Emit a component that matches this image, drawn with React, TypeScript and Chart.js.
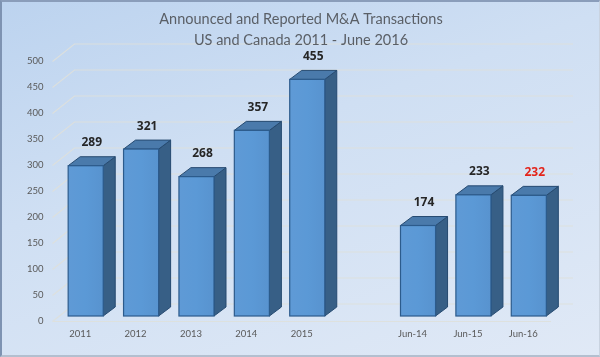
import React, { useEffect, useRef } from "react";
import { Chart, registerables } from "chart.js";

Chart.register(...registerables);

const categories = ["2011", "2012", "2013", "2014", "2015", "", "Jun-14", "Jun-15", "Jun-16"];
const transactions = [289, 321, 268, 357, 455, null, 174, 233, 232];
const labelColors = ["#262626", "#262626", "#262626", "#262626", "#262626", "#262626", "#262626", "#262626", "#e3241b"];
const titleLines = ["Announced and Reported M&A Transactions", "US and Canada 2011 - June 2016"];
const yMin = 0;
const yMax = 500;
const yStep = 50;

const DEPTH_X = 22;
const DEPTH_Y = 17.5;
const BAR_SHIFT_X = 5.5;
const BAR_SHIFT_Y = 5;
const BAR_DX = 12;
const BAR_DY = 9;

const titlePlugin = {
  id: "centeredTitle",
  afterDraw(chart: any) {
    const { ctx, width } = chart;
    ctx.save();
    ctx.font = "14.5px Lato";
    ctx.fillStyle = "#5a5f66";
    ctx.textAlign = "center";
    ctx.textBaseline = "middle";
    ctx.fillText(titleLines[0], width / 2 + 1, 19);
    ctx.fillText(titleLines[1], width / 2 + 1, 40);
    ctx.restore();
  },
};

const backPlanePlugin = {
  id: "backPlane",
  beforeDatasetsDraw(chart: any) {
    const { ctx, chartArea, scales } = chart;
    const y = scales.y;
    ctx.save();
    ctx.strokeStyle = "rgba(222,224,220,0.9)";
    ctx.lineWidth = 1.2;
    for (let v = yMin; v <= yMax; v += yStep) {
      const py = Math.round(y.getPixelForValue(v)) + 0.5;
      ctx.beginPath();
      ctx.moveTo(chartArea.left, py);
      ctx.lineTo(chartArea.left + DEPTH_X, py - DEPTH_Y);
      ctx.lineTo(chartArea.right + DEPTH_X, py - DEPTH_Y);
      ctx.stroke();
    }
    const floor = Math.round(y.getPixelForValue(0)) + 0.5;
    ctx.beginPath();
    ctx.moveTo(chartArea.left, floor);
    ctx.lineTo(chartArea.right, floor);
    ctx.stroke();
    ctx.restore();
  },
};

const bars3dPlugin = {
  id: "bars3d",
  beforeDatasetDraw(chart: any, args: any) {
    const { ctx } = chart;
    const meta = args.meta;
    const data = chart.data.datasets[args.index].data;
    ctx.save();
    meta.data.forEach((el: any, i: number) => {
      if (data[i] == null) return;
      const w = el.width;
      const x0 = el.x - w / 2 + BAR_SHIFT_X;
      const x1 = x0 + w;
      const top = el.y - BAR_SHIFT_Y;
      const base = el.base - BAR_SHIFT_Y;
      ctx.beginPath();
      ctx.moveTo(x1, top);
      ctx.lineTo(x1 + BAR_DX, top - BAR_DY);
      ctx.lineTo(x1 + BAR_DX, base - BAR_DY);
      ctx.lineTo(x1, base);
      ctx.closePath();
      ctx.fillStyle = "#375f86";
      ctx.fill();
      ctx.strokeStyle = "#264a70";
      ctx.lineWidth = 1;
      ctx.stroke();
      ctx.beginPath();
      ctx.moveTo(x0, top);
      ctx.lineTo(x0 + BAR_DX, top - BAR_DY);
      ctx.lineTo(x1 + BAR_DX, top - BAR_DY);
      ctx.lineTo(x1, top);
      ctx.closePath();
      ctx.fillStyle = "#4a7aab";
      ctx.fill();
      ctx.stroke();
      const g = ctx.createLinearGradient(x0, 0, x1, 0);
      g.addColorStop(0, "#5f9ad6");
      g.addColorStop(0.5, "#5b99d6");
      g.addColorStop(1, "#5893cf");
      ctx.fillStyle = g;
      ctx.fillRect(x0, top, w, base - top);
      ctx.strokeStyle = "#2c5b8c";
      ctx.lineWidth = 1.2;
      ctx.strokeRect(x0, top, w, base - top);
    });
    ctx.restore();
    return false;
  },
  afterDatasetsDraw(chart: any) {
    const { ctx } = chart;
    const meta = chart.getDatasetMeta(0);
    const data = chart.data.datasets[0].data;
    ctx.save();
    ctx.font = "bold 12px 'Open Sans'";
    ctx.textAlign = "center";
    ctx.textBaseline = "middle";
    meta.data.forEach((el: any, i: number) => {
      if (data[i] == null) return;
      const cx = el.x + BAR_SHIFT_X + BAR_DX / 2;
      const cy = el.y - BAR_SHIFT_Y - 23;
      ctx.fillStyle = labelColors[i];
      ctx.fillText(String(data[i]), cx, cy);
    });
    ctx.restore();
  },
};

export default function App() {
  const ref = useRef<HTMLCanvasElement | null>(null);

  useEffect(() => {
    document.body.style.margin = "0";
    if (!ref.current) return;
    const chart = new Chart(ref.current, {
      type: "bar",
      data: {
        labels: categories,
        datasets: [
          {
            label: "Transactions",
            data: transactions,
            backgroundColor: "#5b9bd5",
            categoryPercentage: 1,
            barPercentage: 0.633,
          },
        ],
      },
      options: {
        animation: false,
        responsive: false,
        maintainAspectRatio: false,
        layout: { padding: { left: 0, right: 49, top: 61, bottom: 0 } },
        plugins: {
          legend: { display: false },
          tooltip: { enabled: false },
          title: { display: false },
        },
        scales: {
          x: {
            grid: { display: false, drawTicks: false },
            border: { display: false },
            ticks: {
              color: "#595959",
              font: { family: "Lato", size: 9.5 },
              padding: 7,
              maxRotation: 0,
              autoSkip: false,
            },
            afterFit: (s: any) => {
              s.height = 36;
            },
          },
          y: {
            min: yMin,
            max: yMax,
            grid: { display: false, drawTicks: false },
            border: { display: false },
            ticks: {
              stepSize: yStep,
              color: "#595959",
              font: { family: "Lato", size: 9.5 },
              padding: 9,
            },
            afterFit: (s: any) => {
              s.width = 52.5;
            },
          },
        },
      },
      plugins: [backPlanePlugin, bars3dPlugin, titlePlugin],
    });
    return () => chart.destroy();
  }, []);

  return (
    <div
      style={{
        position: "fixed",
        left: 0,
        top: 0,
        width: 600,
        height: 357,
        boxSizing: "border-box",
        borderLeft: "2px solid #7e93b2",
        borderTop: "2px solid #8a9dba",
        borderRight: "1px solid #c9d3e0",
        borderBottom: "2px solid #b3bfcf",
        background: "linear-gradient(160deg, #bcd3ef 0%, #cfdff3 40%, #e0e9f6 100%)",
        overflow: "hidden",
      }}
    >
      <canvas ref={ref} width={600} height={357} style={{ position: "absolute", left: -2, top: -2, width: 600, height: 357 }} />
    </div>
  );
}
